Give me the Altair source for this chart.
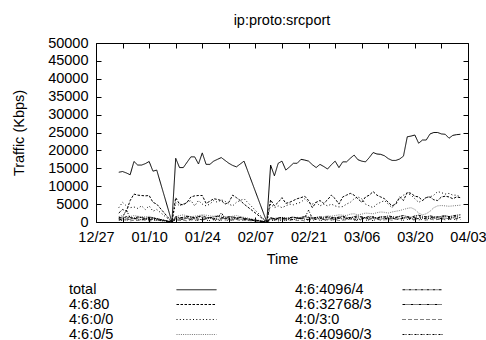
import altair as alt
import pandas as pd

FONT = "Liberation Sans"
FS = 14.5

# ---- data -------------------------------------------------------------
start = pd.Timestamp("2007-12-27")
day_offsets = list(range(6, 17)) + [20] + list(range(21, 40)) + [45] + list(range(46, 97))
dates = [(start + pd.Timedelta(days=d)).strftime("%Y-%m-%d") for d in day_offsets]

total = [13900, 14100, 13700, 13200, 16900, 15900, 15900, 16300, 16900, 14200, 14500,
         0,
         17800, 15200, 15200, 16700, 18200, 18200, 16200, 19300, 16100, 16100,
         17000, 17500, 18000, 17200, 16400, 15800, 15400, 16200, 17000,
         0,
         15900, 12900, 16400, 17000, 14500, 15400, 16400, 16400, 17500, 17300,
         17000, 16000, 15200, 16100, 15500, 14800, 16000, 17000, 15200, 16800,
         16800, 17800, 18700, 17400, 17000, 16800, 18000, 19400, 19000, 18900,
         18500, 17700, 17200, 17200, 17600, 18400, 23800, 24000, 24300, 22000,
         22900, 22900, 24600, 25000, 25000, 24600, 24500, 23400, 24200, 24400, 24500]

s_80 = [2500, 3500, 3000, 6000, 7800, 7500, 7400, 7300, 7400, 5500, 5000,
        0,
        6800, 5000, 4800, 5500, 7000, 7300, 7400, 7400, 5200, 5800,
        6500, 6300, 6000, 5000, 5500, 7500, 6800, 6000, 5000,
        0,
        6200, 4500, 5500, 6800, 5200, 5500, 6000, 6500, 6800, 7200,
        6000, 4000, 5500, 6000, 5200, 6200, 7500, 6500, 5000, 7000,
        7500, 8000, 7500, 6500, 5500, 7000, 7500, 8500, 7500, 7000,
        6500, 5500, 4500, 5000, 7000, 6000, 8300, 8000, 7200, 7000,
        6000, 6800, 7000, 6200, 6000, 7000, 7200, 7000, 6500, 7000, 6800]

s_0_0 = [4000, 5500, 4500, 4000, 4200, 3800, 4500, 3500, 4500, 3000, 3500,
         0,
         5500, 4500, 5000, 5500, 6000, 4500, 6000, 5000, 4500, 5000,
         6000, 5500, 6200, 5800, 5000, 4500, 5500, 6000, 6500,
         0,
         5000, 4000, 4500, 4000, 4500, 5000, 4800, 5200, 5500, 6500,
         5500, 5000, 5500, 4500, 5000, 4500, 5000, 4500, 4200, 4300,
         5000, 5500, 6500, 7000, 6500, 5000, 4500, 4000, 5000, 5500,
         6000, 5000, 4000, 5500, 6500, 7500, 8000, 7500, 6500, 5500,
         6000, 7000, 7000, 7500, 8500, 8200, 7800, 8000, 7500, 7500, 7000]

s_0_5 = [1500, 1800, 1200, 1500, 1800, 1600, 1500, 1400, 1600, 1200, 1000,
         0,
         1500, 1800, 2000, 1700, 1500, 1600, 1800, 2000, 1900, 1700,
         1600, 1800, 1700, 1500, 1400, 1600, 1800, 1500, 1300,
         0,
         1200, 1000, 1200, 1300, 1100, 1000, 1200, 1300, 1200, 1400,
         1500, 1300, 1200, 1400, 1500, 1700, 1600, 1800, 2000, 1900,
         1800, 2200, 2300, 2000, 2200, 2500, 2400, 2300, 2600, 2800,
         2700, 2500, 2800, 3000, 3200, 3500, 3800, 4000, 3500, 2500,
         2000, 2300, 3000, 4000, 4500, 4600, 4500, 4400, 4500, 4600, 4700]

s_4096_4 = [1300, 1000, 1500, 1200, 1100, 1400, 1200, 1000, 1300, 1100, 900,
            0,
            1500, 1200, 1300, 1600, 1400, 1200, 1500, 1700, 1300, 1200,
            1400, 1600, 1300, 1100, 1500, 1400, 1200, 1300, 1000,
            0,
            1200, 900, 1100, 1300, 1000, 1200, 1400, 1100, 1300, 1500,
            1200, 1000, 1300, 1400, 1200, 1500, 1300, 1100, 1400, 1600,
            1300, 1200, 1500, 1700, 1400, 1200, 1600, 1300, 1100, 1500,
            1400, 1700, 1500, 1300, 1600, 1800, 1500, 1300, 1700, 1900,
            1600, 1400, 1700, 1500, 1300, 1600, 1800, 1500, 1700, 1900, 2000]

s_32768_3 = [800, 600, 900, 700, 1000, 800, 600, 900, 700, 800, 600,
             0,
             900, 700, 800, 1000, 700, 900, 800, 600, 900, 1100,
             800, 700, 900, 1000, 800, 700, 900, 800, 700,
             0,
             800, 600, 700, 900, 800, 600, 700, 900, 1000, 800,
             700, 900, 800, 1000, 700, 800, 900, 700, 1100, 800,
             900, 1000, 800, 700, 900, 1100, 800, 1000, 900, 800,
             1000, 900, 1100, 800, 900, 1000, 1200, 900, 800, 1000,
             1100, 900, 1000, 1200, 800, 1000, 1100, 900, 1200, 1000, 1300]

s_0_3_0 = [500, 400, 600, 300, 500, 400, 600, 500, 300, 400, 500,
           0,
           600, 400, 500, 300, 600, 500, 400, 700, 500, 400,
           600, 300, 500, 600, 400, 500, 700, 400, 500,
           0,
           400, 500, 300, 600, 400, 500, 700, 400, 500, 300,
           600, 400, 800, 500, 400, 600, 500, 700, 400, 500,
           600, 800, 500, 400, 700, 500, 600, 400, 800, 500,
           600, 700, 500, 900, 600, 500, 700, 800, 500, 600,
           700, 500, 800, 600, 700, 900, 600, 700, 800, 600, 700]

s_40960_3 = [1000, 1400, 3300, 1200, 900, 1100, 1300, 800, 1000, 1200, 900,
             0,
             1200, 1000, 900, 1300, 1100, 1000, 1500, 1200, 1000, 1300,
             900, 1100, 2600, 1000, 1200, 1100, 900, 1300, 1000,
             0,
             1100, 900, 1000, 1200, 800, 1000, 1300, 1100, 900, 1200,
             3300, 1000, 1200, 1100, 900, 1300, 1000, 1200, 1100, 1400,
             1000, 1200, 1300, 1100, 1400, 1000, 1200, 1500, 1100, 1300,
             1400, 1200, 1100, 1300, 1500, 1200, 1400, 1100, 1300, 1500,
             1200, 1400, 1300, 1100, 1500, 1300, 1600, 1200, 1400, 1500, 1300]

series = {
    "total": total,
    "4:6:80": s_80,
    "4:6:0/0": s_0_0,
    "4:6:0/5": s_0_5,
    "4:6:4096/4": s_4096_4,
    "4:6:32768/3": s_32768_3,
    "4:0/3:0": s_0_3_0,
    "4:6:40960/3": s_40960_3,
}

# legend order (column-major for a 2-column legend)
legend_order = ["total", "4:6:80", "4:6:0/0", "4:6:0/5",
                "4:6:4096/4", "4:6:32768/3", "4:0/3:0", "4:6:40960/3"]
dash_patterns = [[1, 0], [2.5, 1.5], [1, 2.3], [1, 1.2],
                 [3, 1, 1, 1], [3, 1, 1, 1, 1, 1], [1, 1, 1, 3], [2, 1, 1, 2]]
line_colors = ["black", "black", "black", "#777777", "black", "black", "black", "black"]

y_ticks = list(range(0, 50001, 5000))

rows = []
for name, vals in series.items():
    assert len(vals) == len(dates), name
    for d, v in zip(dates, vals):
        rows.append({"date": d, "series": name, "value": v})
df = pd.DataFrame(rows)

# ---- scales / axes ----------------------------------------------------
def dt(ts):
    return alt.DateTime(year=ts.year, month=ts.month, date=ts.day, utc=True)

x_ticks = [dt(start + pd.Timedelta(days=7 * i)) for i in range(15)]
x_scale = alt.Scale(type="utc", domain=[dt(start), dt(start + pd.Timedelta(days=98))], nice=False)
y_scale = alt.Scale(domain=[0, 50000], nice=False, zero=True)

x_axis = alt.Axis(values=x_ticks, orient="bottom", offset=-5, tickSize=5, domain=False,
                  grid=False, labelPadding=8, labelFlush=False, labelOverlap=False,
                  labelBound=False,
                  labelExpr="round(datum.index*14) % 2 == 0 ? utcFormat(datum.value, '%m/%d') : ''",
                  title="Time", titleX=186, titleY=46, titleBaseline="alphabetic")
y_axis = alt.Axis(values=y_ticks, orient="left", offset=-5, tickSize=5, domain=False,
                  grid=False, labelPadding=8, format="d", labelOverlap=False,
                  title="Traffic (Kbps)", titleX=-78, titleY=89.5, titleAngle=-90,
                  titleBaseline="alphabetic", titleAlign="center")
x_axis_top = alt.Axis(values=x_ticks, orient="top", offset=-5, tickSize=5, domain=False,
                      grid=False, labels=False, title=None)
y_axis_right = alt.Axis(values=y_ticks, orient="right", offset=-5, tickSize=5, domain=False,
                        grid=False, labels=False, title=None)

# custom horizontal-stroke symbol: 40px long at size 225 (unit scale = 7.5px)
SYMBOL_PATH = "M-2.6667,0L2.6667,0"

def make_legend():
    return alt.Legend(title=None, orient="none", legendX=-28, legendY=238.5, columns=2,
                      columnPadding=75, rowPadding={"expr": "-0.5"}, symbolType=SYMBOL_PATH,
                      symbolSize=225, symbolStrokeWidth=1, symbolOffset=120.5,
                      symbolFillColor="transparent",
                      labelOffset={"expr": "-135.5"}, labelFontSize=FS,
                      labelFont=FONT, labelColor="black", padding=0, labelLimit=0)

lines = alt.Chart(df).mark_line(strokeWidth=1).encode(
    x=alt.X("date:T", scale=x_scale, axis=x_axis),
    y=alt.Y("value:Q", scale=y_scale, axis=y_axis),
    strokeDash=alt.StrokeDash("series:N", scale=alt.Scale(domain=legend_order, range=dash_patterns),
                              legend=make_legend()),
    color=alt.Color("series:N", scale=alt.Scale(domain=legend_order, range=line_colors),
                    legend=make_legend()),
)

mirror = alt.Chart(df).mark_line(strokeOpacity=0).encode(
    x=alt.X("date:T", scale=x_scale, axis=x_axis_top),
    y=alt.Y("value:Q", scale=y_scale, axis=y_axis_right),
    detail="series:N",
)

chart = alt.layer(lines, mirror).resolve_axis(x="independent", y="independent").properties(
    width=372, height=179,
    padding={"left": 96, "top": 43, "right": 18, "bottom": 118},
    autosize=alt.AutoSizeParams(type="none"),
    background="white",
    title=alt.TitleParams(text="ip:proto:srcport", fontSize=FS, fontWeight="normal", font=FONT,
                          anchor="middle", offset=7, color="black"),
).configure_view(stroke="black", strokeWidth=1).configure_axis(
    tickColor="black", tickWidth=1, labelColor="black", labelFont=FONT, labelFontSize=FS,
    titleFont=FONT, titleFontSize=FS, titleFontWeight="normal", titleColor="black",
)

chart.save("out.html", embed_options={"renderer": "svg", "actions": False})
